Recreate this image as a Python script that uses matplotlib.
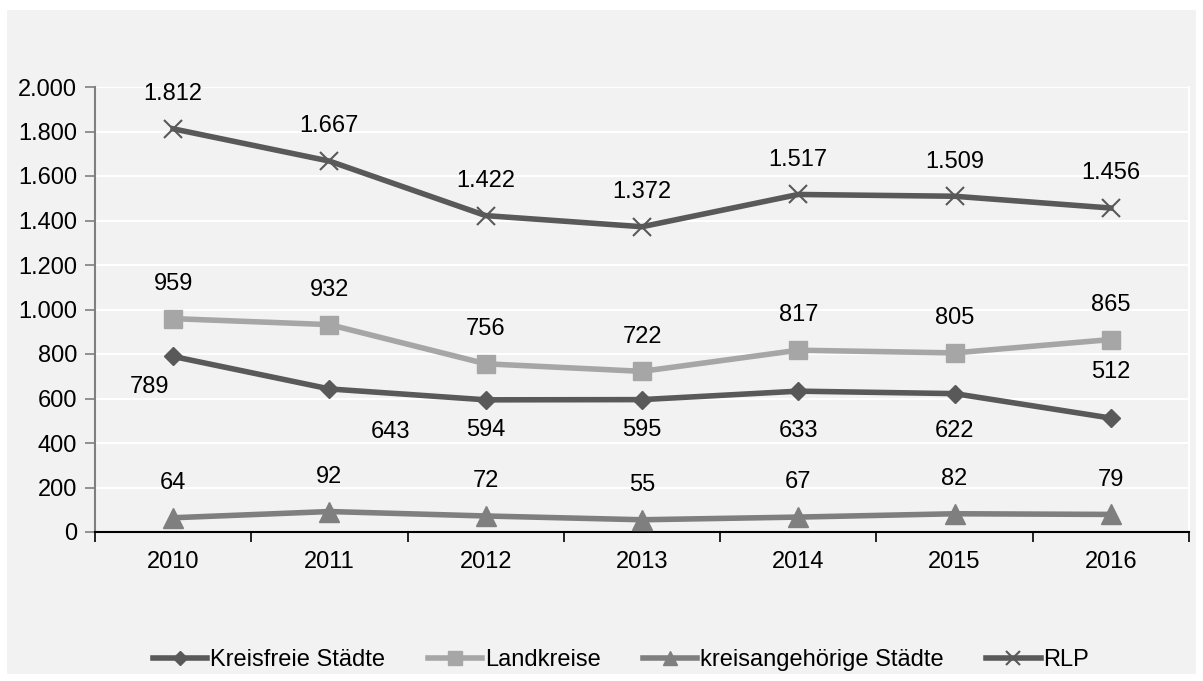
import matplotlib.pyplot as plt
from matplotlib.patches import Rectangle

plt.rcParams['font.family'] = ['Liberation Sans', 'DejaVu Sans']

years = ['2010', '2011', '2012', '2013', '2014', '2015', '2016']
kreisfreie = [789, 643, 594, 595, 633, 622, 512]
landkreise = [959, 932, 756, 722, 817, 805, 865]
kreisangeh = [64, 92, 72, 55, 67, 82, 79]
rlp = [1812, 1667, 1422, 1372, 1517, 1509, 1456]

# label offsets in points (dx, dy) for the Kreisfreie series, the rest sit above
kf_offsets = [(-17, -22), (44, -31), (0, -22), (0, -22), (0, -29), (0, -27), (0, 33)]

FS = 17

fig = plt.figure(figsize=(12.03, 6.81), dpi=100)
fig.patches.append(Rectangle((7 / 1203, 7 / 681), 1189 / 1203, 664 / 681,
                             transform=fig.transFigure, facecolor='#f2f2f2',
                             edgecolor='none', zorder=-5))
ax = fig.add_axes([95 / 1203, 1 - 532 / 681, (1189 - 95) / 1203, (532 - 87) / 681])
ax.set_zorder(2)
ax.patch.set_visible(False)

x = list(range(len(years)))

def fmt(v):
    return f'{v:,}'.replace(',', '.')

ax.plot(x, kreisfreie, color='#595959', lw=4, marker='D', ms=9, label='Kreisfreie Städte', zorder=4)
ax.plot(x, landkreise, color='#a6a6a6', lw=4, marker='s', ms=13, label='Landkreise', zorder=3)
ax.plot(x, kreisangeh, color='#7f7f7f', lw=4, marker='^', ms=14, label='kreisangehörige Städte', zorder=3)
ax.plot(x, rlp, color='#595959', lw=4, marker='x', ms=13, mew=1.5, label='RLP', zorder=3)

for series in (landkreise, kreisangeh, rlp):
    for i, v in enumerate(series):
        ax.annotate(fmt(v), (i, v), xytext=(0, 25), textcoords='offset points',
                    ha='center', va='center', fontsize=FS)
for i, v in enumerate(kreisfreie):
    ax.annotate(fmt(v), (i, v), xytext=kf_offsets[i], textcoords='offset points',
                ha='center', va='center', fontsize=FS)

ax.set_xlim(-0.5, 6.5)
ax.set_ylim(0, 2000)
ax.set_yticks(range(0, 2001, 200))
ax.set_yticklabels([fmt(v) for v in range(0, 2001, 200)], fontsize=FS)
ax.set_xticks([i - 0.5 for i in range(8)], minor=False)
ax.set_xticklabels([])
ax.set_xticks(x, minor=True)
ax.set_xticklabels(years, minor=True, fontsize=FS)
ax.tick_params(axis='x', which='minor', length=0, pad=14)
ax.tick_params(axis='x', which='major', length=7, width=1.2, direction='out', color='black')
ax.tick_params(axis='y', length=7, width=1.2, color='#7f7f7f', pad=6)

ax.grid(axis='y', color='white', lw=1.5)
ax.set_axisbelow(True)
ax.spines['top'].set_visible(False)
ax.spines['right'].set_color('white')
ax.spines['right'].set_linewidth(1.5)
ax.spines['left'].set_color('#7f7f7f')
ax.spines['left'].set_linewidth(1.5)
ax.spines['bottom'].set_color('black')
ax.spines['bottom'].set_linewidth(1.5)

fig.legend(loc='center', bbox_to_anchor=(621 / 1203, 1 - 660 / 681), ncol=4, frameon=False,
           fontsize=FS, handlelength=2.3, handletextpad=0.12, columnspacing=1.8,
           markerscale=0.75)

fig.savefig('out.png', dpi=100)
